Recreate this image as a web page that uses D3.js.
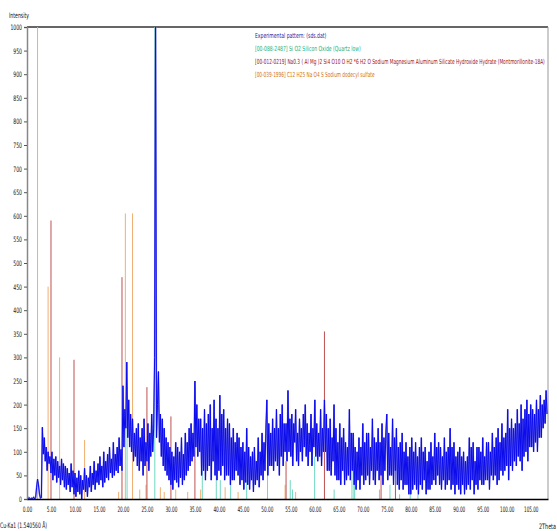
<!DOCTYPE html>
<html>
<head>
<meta charset="utf-8">
<script src="https://cdn.jsdelivr.net/npm/d3@7"></script>
<style>
  body { margin: 0; background: #fff; }
  svg text { font-family: "Liberation Sans Narrow", "DejaVu Sans Condensed", sans-serif; }
</style>
</head>
<body>
<div id="chart"></div>
<script>
// experimental pattern, one value every 0.2 deg 2theta starting at 0
var expStep = 0.2;
var expCounts = [
  2,0,3,1,0, 2,1,4,0,3, 25,42,30,10,2, 3,152,95,130,80,
  110,60,100,75,90, 55,100,40,85,50, 90,35,80,45,70, 30,85,40,75,25,
  70,20,65,30,55, 15,75,25,60,10, 55,5,45,15,60, 10,50,0,40,20,
  65,15,50,5,45, 25,70,15,55,30, 80,20,60,35,75, 30,90,40,70,25,
  100,35,80,45,95, 40,110,55,85,45, 120,50,95,60,110, 55,130,70,105,60,
  240,110,190,150,290, 130,210,110,180,100, 170,80,140,90,150, 70,160,60,130,80,
  150,50,170,70,120, 80,160,60,140,90, 180,100,150,300,1050, 130,200,270,120,180,
  90,170,70,150,60, 130,50,120,40,110, 30,100,20,90,40, 120,35,110,25,100,
  45,130,30,95,40, 140,50,120,60,150, 70,160,80,140,90, 250,110,200,90,170,
  100,170,50,150,60, 190,40,160,60,180, 70,200,40,150,80, 210,50,170,40,150,
  60,220,50,180,70, 190,40,150,50,170, 50,160,30,130,40, 150,40,120,60,140,
  50,130,30,110,40, 120,20,100,35,150, 30,110,20,90,40, 100,15,110,30,80,
  40,130,25,100,50, 140,40,120,60,150, 210,50,160,70,140, 70,170,60,150,80,
  190,70,150,50,180, 90,200,70,160,100, 160,80,230,100,170, 90,180,70,160,120,
  190,80,140,70,170, 100,150,80,180,110, 200,90,160,70,140, 100,180,70,150,110,
  210,90,160,80,140, 90,190,70,150,100, 210,100,180,60,150, 60,170,50,130,80,
  200,50,150,40,120, 40,160,30,130,60, 150,30,120,40,110, 50,190,40,140,60,
  140,30,110,20,100, 40,130,20,110,50, 160,30,120,40,140, 50,140,30,110,60,
  170,40,130,30,120, 60,150,40,120,50, 160,30,130,60,140, 180,40,140,50,110,
  50,170,30,130,60, 150,30,110,20,120, 40,140,20,100,30, 120,30,90,10,110,
  10,130,20,100,30, 120,20,90,10,110, 30,130,20,100,40, 110,10,80,20,100,
  20,120,30,90,40, 140,30,110,50,120, 30,110,20,90,40, 130,20,100,30,110,
  40,150,20,110,30, 120,10,90,30,100, 20,110,10,90,30, 100,10,80,20,90,
  30,130,20,110,40, 120,10,80,30,110, 20,110,40,100,30, 130,30,90,40,120,
  40,120,20,100,50, 140,40,110,50,130, 30,150,40,120,60, 160,50,130,60,140,
  70,190,40,150,70, 170,60,150,80,160, 70,190,90,160,80, 200,60,170,90,190,
  100,210,80,180,110, 200,110,190,100,180, 120,210,100,190,130, 220,130,200,150,210,
  160,230,180
];

// reference patterns (stick lines)
var quartzPos = [20.86, 26.64, 36.54, 39.46, 40.29, 42.45, 45.79, 50.14, 54.87, 55.33, 59.96, 64.02, 67.74, 68.14, 68.31, 73.47, 75.66, 77.67, 79.88, 81.49];
var quartzInt = [220, 1000, 80, 80, 40, 60, 40, 130, 40, 20, 90, 20, 60, 70, 50, 20, 30, 10, 20, 20];
var montPos = [5.0, 9.8, 19.8, 25.0, 30.0, 35.0, 54.0, 62.0, 73.8, 76.8];
var montInt = [590, 295, 470, 237, 175, 237, 80, 355, 55, 60];
var sdsPos = [2.2, 4.4, 6.8, 12.0, 19.1, 20.5, 22.0, 23.5, 24.8, 27.8, 28.6, 31.0, 33.5, 36.2, 41.3, 44.0, 53.8, 56.0];
var sdsInt = [1000, 450, 300, 125, 15, 605, 605, 20, 30, 25, 15, 20, 15, 20, 25, 15, 30, 15];

var yTicks = d3.range(0, 1001, 50);
var xTicks = d3.range(0, 106, 5);
var legendLabels = [
  "Experimental pattern: (sds.dat)",
  "[00-088-2487] Si O2 Silicon Oxide (Quartz low)",
  "[00-012-0219] Na0.3 ( Al Mg )2 Si4 O10 O H2 *6 H2 O Sodium Magnesium Aluminum Silicate Hydroxide Hydrate (Montmorillonite-18A)",
  "[00-039-1996] C12 H25 Na O4 S Sodium dodecyl sulfate"
];
var legendColors = ["#1a1aa0", "#20b080", "#a01010", "#d07010"];

var width = 557, height = 531;
var margin = {top: 27, right: 9, bottom: 32, left: 27};
var chartW = width - margin.left - margin.right,
    chartH = height - margin.top - margin.bottom;

var x = d3.scaleLinear().domain([0, 108.6]).range([0, chartW]);
var y = d3.scaleLinear().domain([0, 1000]).range([chartH, 0]);

var svg = d3.select('#chart').append('svg')
    .attr('width', width)
    .attr('height', height);

svg.append('defs').append('clipPath').attr('id', 'plotclip')
  .append('rect').attr('x', 0).attr('y', 0).attr('width', chartW).attr('height', chartH);

var g = svg.append('g').attr('transform', 'translate(' + margin.left + ',' + margin.top + ')');

// frame
g.append('line').attr('x1', 0).attr('x2', chartW).attr('y1', 0).attr('y2', 0)
  .attr('stroke', '#333').attr('stroke-width', 1.5);
g.append('line').attr('x1', chartW).attr('x2', chartW).attr('y1', 0).attr('y2', chartH)
  .attr('stroke', '#999').attr('stroke-width', 1);

var plot = g.append('g').attr('clip-path', 'url(#plotclip)');

function sticks(pos, vals, color, w) {
  plot.append('g').selectAll('line')
    .data(pos.map(function(p, i) { return {p: p, v: vals[i]}; }))
    .enter().append('line')
    .attr('x1', function(d) { return x(d.p); })
    .attr('x2', function(d) { return x(d.p); })
    .attr('y1', y(0))
    .attr('y2', function(d) { return y(d.v); })
    .attr('stroke', color)
    .attr('stroke-width', w);
}
sticks(sdsPos, sdsInt, '#f0b070', 1);
sticks(montPos, montInt, '#c05050', 1);
sticks(quartzPos, quartzInt, '#70d8c0', 1);

var expData = expCounts.map(function(v, i) { return {t: i * expStep, v: v}; });
var line = d3.line().x(function(d) { return x(d.t); }).y(function(d) { return y(d.v); });

plot.append('path').datum(expData)
  .attr('d', line)
  .attr('fill', 'none')
  .attr('stroke', '#9090e0')
  .attr('stroke-width', 1.6);
plot.append('path').datum(expData)
  .attr('d', line)
  .attr('fill', 'none')
  .attr('stroke', '#0a0aee')
  .attr('stroke-width', 1);

// y axis
var yAxis = g.append('g').call(d3.axisLeft(y).tickValues(yTicks).tickSize(3).tickPadding(2)
    .tickFormat(d3.format('d')));
yAxis.select('.domain').attr('stroke', '#888').attr('stroke-width', 1.5);
yAxis.selectAll('.tick line').attr('stroke', '#555');
yAxis.selectAll('text')
  .attr('fill', '#111')
  .style('font-size', '7.5px')
  .attr('textLength', function(d) { return String(d).length * 2.9; })
  .attr('lengthAdjust', 'spacingAndGlyphs');

// x axis
var xAxis = g.append('g').attr('transform', 'translate(0,' + chartH + ')')
  .call(d3.axisBottom(x).tickValues(xTicks).tickSize(0).tickPadding(8)
    .tickFormat(d3.format('.2f')));
xAxis.select('.domain').attr('stroke', '#000').attr('stroke-width', 1.5);
xAxis.selectAll('text')
  .attr('fill', '#111')
  .style('font-size', '7.5px')
  .attr('textLength', function(d) { return d3.format('.2f')(d).length * 2.4; })
  .attr('lengthAdjust', 'spacingAndGlyphs');

// legend
svg.append('g').selectAll('text')
  .data(legendLabels)
  .enter().append('text')
  .attr('x', 255)
  .attr('y', function(d, i) { return 37.5 + i * 13; })
  .attr('fill', function(d, i) { return legendColors[i]; })
  .style('font-size', '7px')
  .attr('textLength', function(d) { return d.length * 2.3; })
  .attr('lengthAdjust', 'spacingAndGlyphs')
  .text(function(d) { return d; });

// axis titles
svg.append('text').attr('x', 9).attr('y', 18).style('font-size', '7.5px').attr('fill', '#111')
  .attr('textLength', 20).attr('lengthAdjust', 'spacingAndGlyphs').text('Intensity');
svg.append('text').attr('x', 0).attr('y', 528).style('font-size', '7.5px').attr('fill', '#111')
  .attr('textLength', 47).attr('lengthAdjust', 'spacingAndGlyphs').text('Cu-Ka1 (1.540560 Å)');
svg.append('text').attr('x', 539).attr('y', 529).style('font-size', '7.5px').attr('fill', '#111')
  .attr('textLength', 17).attr('lengthAdjust', 'spacingAndGlyphs').text('2Theta');
</script>
</body>
</html>
